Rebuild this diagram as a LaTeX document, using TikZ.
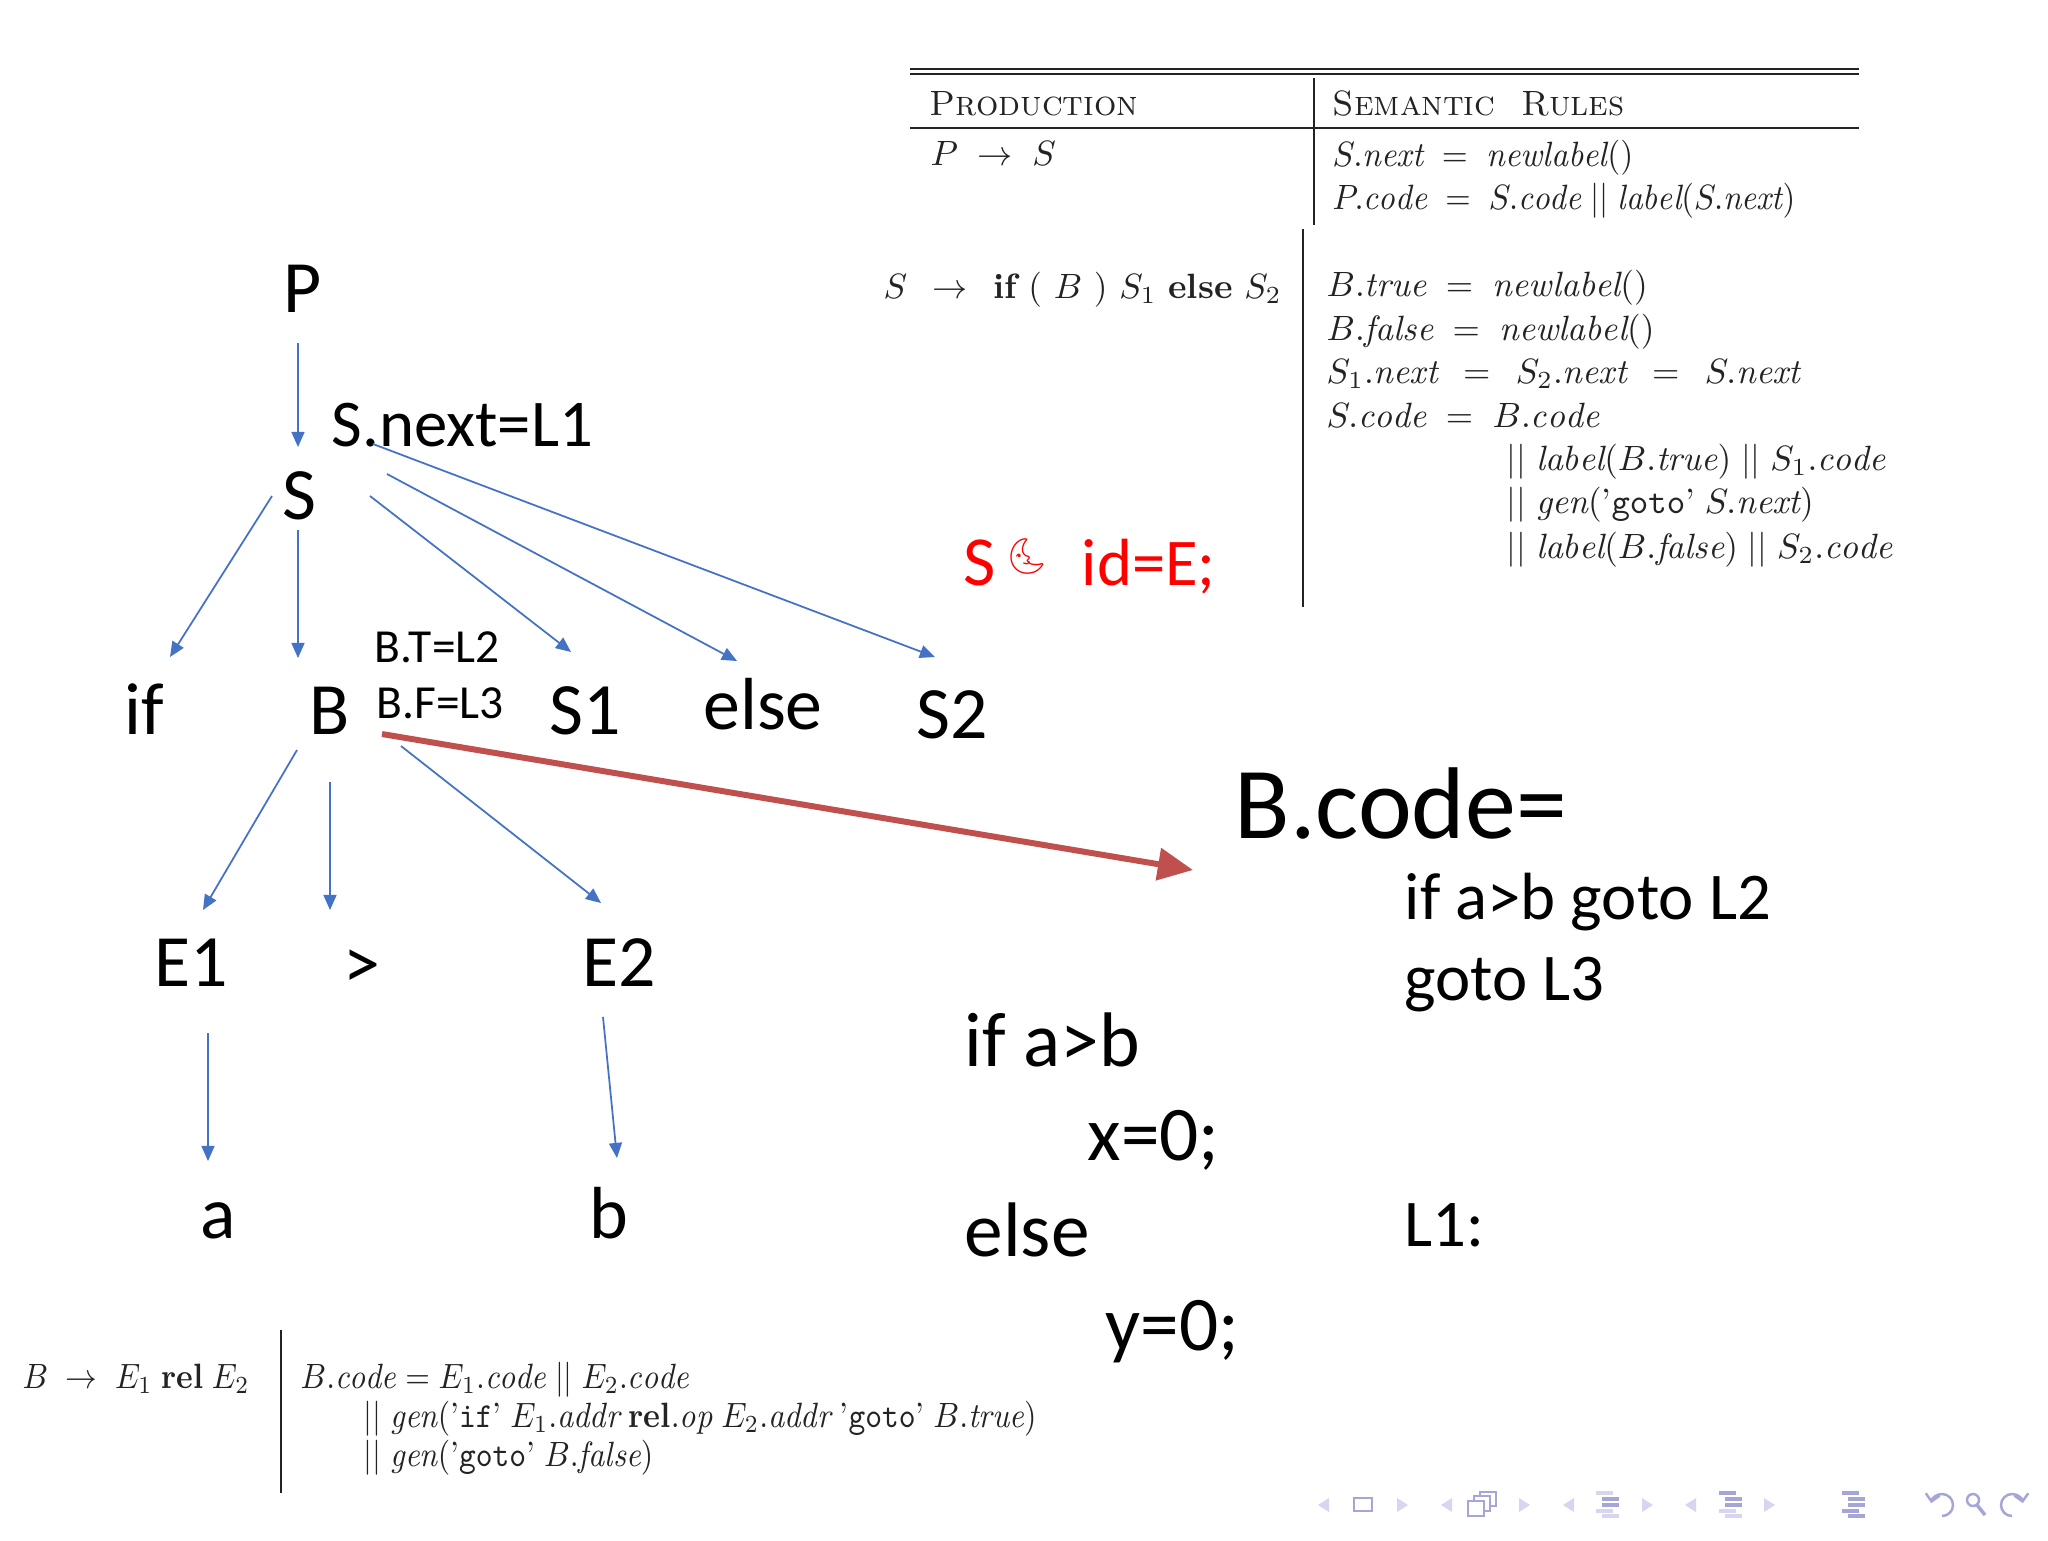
\documentclass[tikz,border=0pt]{standalone}
\usepackage{fontspec}
\usepackage{graphicx}
\newfontfamily\slidefont{Carlito}
\newfontfamily\moonfont{Noto Emoji}
\newcommand{\narrowscan}[2][0.9]{\scalebox{#1}[1]{#2}}
\usepackage{tikz}
\usetikzlibrary{calc,arrows.meta,positioning}
\definecolor{treeblue}{RGB}{68,114,196}
\definecolor{arrowred}{RGB}{192,80,77}
\definecolor{navdark}{RGB}{165,165,215}
\definecolor{navlight}{RGB}{214,214,238}
\definecolor{scangray}{RGB}{35,35,35}
\tikzstyle{treenode}=[anchor=base,inner sep=0pt,font=\slidefont\fontsize{21pt}{25pt}\selectfont]
\tikzstyle{attrnode}=[anchor=base west,inner sep=0pt,font=\slidefont\fontsize{13.5pt}{16pt}\selectfont]
\tikzstyle{nextnode}=[anchor=base west,inner sep=0pt,font=\slidefont\fontsize{19pt}{23pt}\selectfont]
\tikzstyle{codenode}=[anchor=base west,inner sep=0pt,font=\slidefont\fontsize{22pt}{26pt}\selectfont]
\tikzstyle{smallcode}=[anchor=base west,inner sep=0pt,font=\slidefont\fontsize{19pt}{23pt}\selectfont]
\tikzstyle{semrule}=[anchor=base west,inner sep=0pt,text=scangray,font=\fontsize{10pt}{12pt}\selectfont]
\tikzstyle{treeedge}=[treeblue,line width=0.5pt,-{Triangle[length=4.3pt,width=3.7pt]}]
\tikzstyle{tablerule}=[scangray,line width=0.6pt]

\begin{document}
\begin{tikzpicture}[x=0.1mm,y=-0.1mm]
\fill[white] (0,0) rectangle (2048,1540);
\useasboundingbox (0,0) rectangle (2048,1540);
% parse tree
\draw (303,312) node [treenode] (P) {P};
\draw (299,519) node [treenode] (S) {S};
\draw (331,446) node [nextnode] (snext) {S.next=L1};
\draw (144,734) node [treenode] (if) {if};
\draw (330,734) node [treenode] (B) {B};
\draw (585,734) node [treenode] (S1) {S1};
\draw (763,729) node [treenode] (else) {else};
\draw (952,738) node [treenode] (S2) {S2};
\draw (374,662) node [attrnode] (btrue) {B.T=L2};
\draw (376,718) node [attrnode] (bfalse) {B.F=L3};
\draw (191,986) node [treenode] (E1) {E1};
\draw (362,988) node [treenode] (gt) {>};
\draw (619,986) node [treenode] (E2) {E2};
\draw (218,1238) node [treenode] (a) {a};
\draw (609,1238) node [treenode] (b) {b};
\draw[treeedge] ($(P.base)+(-5,31)$) -- ($(S.base)+(-1,-72)$);
\draw[treeedge] ($(S.base)+(-27,-23)$) -- ($(if.base)+(26,-77)$);
\draw[treeedge] ($(S.base)+(-1,11)$) -- ($(B.base)+(-32,-76)$);
\draw[treeedge] ($(S.base)+(71,-23)$) -- ($(S1.base)+(-14,-82)$);
\draw[treeedge] ($(S.base)+(88,-45)$) -- ($(else.base)+(-26,-68)$);
\draw[treeedge] ($(S.base)+(74,-75)$) -- ($(S2.base)+(-17,-81)$);
\draw[treeedge] ($(B.base)+(-33,16)$) -- ($(E1.base)+(12,-76)$);
\draw[treeedge] ($(B.base)+(0,48)$) -- ($(gt.base)+(-32,-78)$);
\draw[treeedge] ($(B.base)+(71,12)$) -- ($(E2.base)+(-18,-83)$);
\draw[treeedge] ($(E1.base)+(17,47)$) -- ($(a.base)+(-10,-77)$);
\draw[treeedge] ($(E2.base)+(-16,31)$) -- ($(b.base)+(8,-80)$);
% generated code
\draw (1234,838) node [anchor=base west,inner sep=0pt,font=\slidefont\fontsize{29pt}{34pt}\selectfont] (Bcode) {B.code=};
\draw (1404,919) node [smallcode] (line1) {if a>b goto L2};
\draw (1404,1000) node [smallcode] (line2) {goto L3};
\draw (1404,1246) node [smallcode] (lab1) {L1:};
\draw (964,1066) node [codenode] (src1) {if a>b};
\draw (1087,1160) node [codenode] (src2) {x=0;};
\draw (964,1256) node [codenode] (src3) {else};
\draw (1105,1350) node [codenode] (src4) {y=0;};
\draw[arrowred,line width=1.7pt,-{Triangle[length=10pt,width=9pt]}] ($(B.base)+(52,0)$) -- ($(Bcode.base west)+(-41,32)$);
\draw (963,585) node [anchor=base west,inner sep=0pt,text=red,font=\slidefont\fontsize{20pt}{24pt}\selectfont] (redS) {S};
\draw (1027,556) node [inner sep=0pt,text=red,font=\moonfont\fontsize{10pt}{12pt}\selectfont] (moon) {🌜};
\draw (1081,585) node [anchor=base west,inner sep=0pt,text=red,font=\slidefont\fontsize{19pt}{23pt}\selectfont] (redid) {id=E;};
% semantic rules table
\draw[tablerule] (910,69) -- (1859,69);
\draw[tablerule] (910,74) -- (1859,74);
\draw[tablerule] (910,128) -- (1859,128);
\draw[tablerule] (1314,78) -- (1314,225);
\draw[tablerule] (1303,229) -- (1303,607);
\draw (929,115) node [semrule] (prodhead) {\textsc{Production}};
\draw (1332,115) node [semrule] (semhead) {\textsc{Semantic\ \ Rules}};
\draw (930,165) node [semrule] (prodP) {$P \;\rightarrow\; S$};
\draw (1332,166) node [semrule] (ruleP1) {\narrowscan[0.95]{$S.\mathit{next} \;=\; \mathit{newlabel}()$}};
\draw (1332,209) node [semrule] (ruleP2) {\narrowscan[0.93]{$P.\mathit{code} \;=\; S.\mathit{code} \mathrel{||} \mathit{label}(S.\mathit{next})$}};
\draw (883,298) node [semrule] (prodS) {$S \;\,\rightarrow\;\, \textbf{if}\ (\ B\ )\ S_1\ \textbf{else}\ S_2$};
\draw (1326,296) node [semrule] (ruleS1) {$B.\mathit{true} \;=\; \mathit{newlabel}()$};
\draw (1326,340) node [semrule] (ruleS2) {$B.\mathit{false} \;=\; \mathit{newlabel}()$};
\draw (1326,383) node [semrule] (ruleS3) {$S_1.\mathit{next} \;\,=\;\, S_2.\mathit{next} \;\,=\;\, S.\mathit{next}$};
\draw (1326,427) node [semrule] (ruleS4) {$S.\mathit{code} \;=\; B.\mathit{code}$};
\draw (1506,470) node [semrule] (ruleS5) {$||\;\mathit{label}(B.\mathit{true}) \mathrel{||} S_1.\mathit{code}$};
\draw (1506,513) node [semrule] (ruleS6) {$||\;\mathit{gen}(\mbox{'\texttt{goto}'}\;S.\mathit{next})$};
\draw (1506,558) node [semrule] (ruleS7) {$||\;\mathit{label}(B.\mathit{false}) \mathrel{||} S_2.\mathit{code}$};
% rule for B
\draw[tablerule] (281,1330) -- (281,1493);
\draw (22,1388) node [semrule] (prodB) {\narrowscan{$B \;\rightarrow\; E_1\;\textbf{rel}\;E_2$}};
\draw (300,1388) node [semrule] (ruleB1) {\narrowscan{$B.\mathit{code} = E_1.\mathit{code} \mathrel{||} E_2.\mathit{code}$}};
\draw (363,1427) node [semrule] (ruleB2) {\narrowscan[0.91]{$||\;\mathit{gen}(\mbox{'\texttt{if}'}\;E_1.\mathit{addr}\;\textbf{rel}.\mathit{op}\;E_2.\mathit{addr}\;\mbox{'\texttt{goto}'}\;B.\mathit{true})$}};
\draw (363,1466) node [semrule] (ruleB3) {\narrowscan[0.91]{$||\;\mathit{gen}(\mbox{'\texttt{goto}'}\;B.\mathit{false})$}};
% navigation symbols
\foreach \x in {1329,1452,1574,1696}
  \fill[navlight] (\x,1498) -- (\x-11,1505) -- (\x,1512) -- cycle;
\foreach \x in {1397,1519,1642,1764}
  \fill[navlight] (\x,1498) -- (\x+11,1505) -- (\x,1512) -- cycle;
\draw[navdark,line width=0.6pt] (1354,1498) rectangle (1372,1511);
\draw[navdark,line width=0.6pt,fill=white] (1480,1492) rectangle (1496,1506);
\draw[navdark,line width=0.6pt,fill=white] (1474,1496) rectangle (1490,1511);
\draw[navdark,line width=0.6pt,fill=white] (1468,1501) rectangle (1484,1516);
\foreach \x/\ca/\cb/\cc/\cd/\ce in {1596/navlight/navdark/navdark/navlight/navlight,1719/navdark/navdark/navdark/navlight/navlight,1842/navdark/navdark/navdark/navdark/navdark} {
  \draw[\ca,line width=0.9pt] (\x,1493) -- (\x+17,1493);
  \draw[\cb,line width=0.9pt] (\x+6,1499) -- (\x+23,1499);
  \draw[\cc,line width=0.9pt] (\x+6,1505) -- (\x+23,1505);
  \draw[\cd,line width=0.9pt] (\x,1511) -- (\x+17,1511);
  \draw[\ce,line width=0.9pt] (\x+6,1516) -- (\x+23,1516);
}
\draw[navdark,line width=0.7pt,-{Straight Barb[length=2pt,width=4pt]}] (1942,1505) ++(90:11) arc[start angle=90,end angle=-170,radius=11];
\draw[navdark,line width=0.7pt] (1973,1500) circle[radius=6];
\draw[navdark,line width=1pt] (1977,1505) -- (1985,1515);
\draw[navdark,line width=0.7pt,-{Straight Barb[length=2pt,width=4pt]}] (2012,1505) ++(90:11) arc[start angle=90,end angle=350,radius=11];
\end{tikzpicture}
\end{document}
